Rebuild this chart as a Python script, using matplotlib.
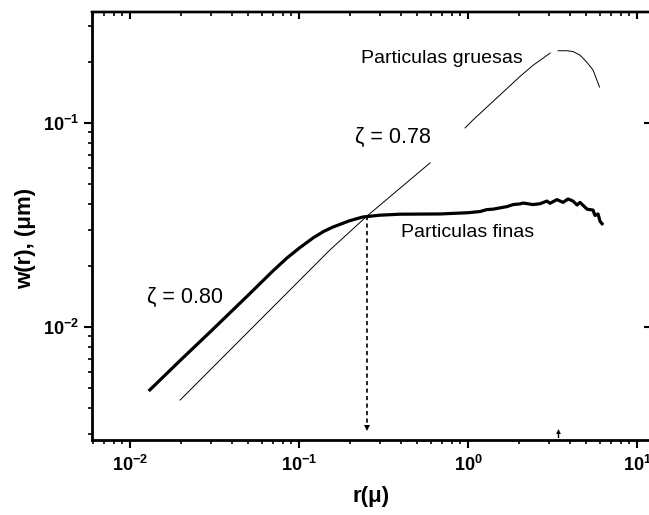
import numpy as np
import matplotlib
matplotlib.use("Agg")
import matplotlib.pyplot as plt
from matplotlib.ticker import LogLocator, NullFormatter, FixedLocator, FixedFormatter

plt.rcParams['font.family'] = ['Liberation Sans', 'DejaVu Sans']
plt.rcParams['mathtext.fontset'] = 'custom'
plt.rcParams['mathtext.rm'] = 'Liberation Sans'
plt.rcParams['mathtext.it'] = 'Liberation Sans:italic'
plt.rcParams['mathtext.bf'] = 'Liberation Sans:bold'

# Fine particles (thick curve)
r_fine = [0.0129, 0.02, 0.03, 0.05, 0.07, 0.085, 0.1, 0.121, 0.14, 0.159, 0.20, 0.239, 0.30,
          0.396, 0.683, 1.0, 1.18, 1.29, 1.41, 1.70, 1.85, 2.03, 2.12, 2.42, 2.67,
          2.93, 3.06, 3.36, 3.65, 3.91, 4.18, 4.42, 4.60, 5.06, 5.49, 5.64, 5.88,
          6.04, 6.30]
w_fine = [0.00485, 0.0069, 0.0095, 0.0143, 0.0188, 0.0218, 0.0243, 0.0273, 0.0294, 0.0309, 0.0332,
          0.0346, 0.0353, 0.0357, 0.0358, 0.0363, 0.0368, 0.0376, 0.0378, 0.0389,
          0.0398, 0.0401, 0.0405, 0.0398, 0.0402, 0.0414, 0.0404, 0.0421, 0.0408,
          0.0424, 0.0414, 0.0396, 0.0408, 0.0378, 0.0374, 0.0352, 0.0358, 0.0330,
          0.0316]

# Coarse particles (thin curve); NaN = where the line is interrupted
r_coarse = [0.0198, 0.152, 0.253, 0.596, np.nan, 0.96, 1.07, 2.03, 2.43, 3.06,
            np.nan, 3.41, 3.85, 4.18, 4.60, 5.06, 5.49, 6.0]
w_coarse = [0.00438, 0.0238, 0.0350, 0.0637, np.nan, 0.0945, 0.1034, 0.169, 0.192,
            0.220, np.nan, 0.226, 0.226, 0.224, 0.215, 0.198, 0.182, 0.150]

r_cross = 0.252      # crossover marked by the dashed arrow
w_cross = 0.035
r_peak = 3.41        # small arrow on the bottom axis

xlim = (0.005958, 12.1)
ylim = (0.00279, 0.350)

xticks = [0.01, 0.1, 1, 10]
xticklabels = [r'$\mathbf{10^{-2}}$', r'$\mathbf{10^{-1}}$', r'$\mathbf{10^{0}}$', r'$\mathbf{10^{1}}$']
yticks = [0.01, 0.1]
yticklabels = [r'$\mathbf{10^{-2}}$', r'$\mathbf{10^{-1}}$']

fig = plt.figure(figsize=(6.49, 5.15), dpi=100)
ax = fig.add_axes([92/649, 1-440/515, (651-92)/649, (440-12)/515])
ax.set_xscale('log')
ax.set_yscale('log')
ax.set_xlim(*xlim)
ax.set_ylim(*ylim)

ax.plot(r_fine, w_fine, color='black', lw=2.3, solid_capstyle='butt', solid_joinstyle='round')
ax.plot(r_coarse, w_coarse, color='black', lw=0.7)

# dashed arrow down to axis
ax.plot([r_cross, r_cross], [w_cross, 0.0032], color='black', lw=1.2,
        linestyle=(0, (2.5, 2)))
ax.plot([r_cross], [0.00318], marker='v', color='black', ms=4.5, mew=0)
ax.plot([r_peak, r_peak], [0.0029, 0.00305], color='black', lw=1.0)
ax.plot([r_peak], [0.00308], marker='^', color='black', ms=3.5, mew=0)

ax.text(0.70, 0.208, 'Particulas gruesas', fontsize=14, ha='center', va='center')
ax.text(0.214, 0.0853, 'ζ = 0.78', fontsize=15.5, ha='left', va='center')
ax.text(0.99, 0.0289, 'Particulas finas', fontsize=14, ha='center', va='center')
ax.text(0.0126, 0.0140, 'ζ = 0.80', fontsize=15.5, ha='left', va='center')

# spines
for s in ax.spines.values():
    s.set_linewidth(1.7)
ax.spines['bottom'].set_linewidth(2.0)
ax.spines['left'].set_linewidth(2.0)

ax.xaxis.set_major_locator(FixedLocator(xticks))
ax.xaxis.set_major_formatter(FixedFormatter(xticklabels))
ax.xaxis.set_minor_locator(LogLocator(base=10, subs=np.arange(2, 10)))
ax.xaxis.set_minor_formatter(NullFormatter())
ax.yaxis.set_major_locator(FixedLocator(yticks))
ax.yaxis.set_major_formatter(FixedFormatter(yticklabels))
ax.yaxis.set_minor_locator(LogLocator(base=10, subs=np.arange(2, 10)))
ax.yaxis.set_minor_formatter(NullFormatter())

ax.tick_params(which='major', direction='out', length=5.5, width=1.5, labelsize=13, pad=4)
ax.tick_params(which='minor', direction='out', length=3, width=1.2)
ax.tick_params(axis='x', which='major', pad=5)

top = ax.secondary_xaxis('top')
top.xaxis.set_major_locator(FixedLocator(xticks))
top.xaxis.set_minor_locator(LogLocator(base=10, subs=np.arange(2, 10)))
top.xaxis.set_major_formatter(NullFormatter())
top.xaxis.set_minor_formatter(NullFormatter())
top.tick_params(which='major', direction='in', length=5, width=1.5)
top.tick_params(which='minor', direction='in', length=3, width=1.2)
top.spines['top'].set_linewidth(1.7)

right = ax.secondary_yaxis('right')
right.yaxis.set_major_locator(FixedLocator(yticks))
right.yaxis.set_minor_locator(LogLocator(base=10, subs=np.arange(2, 10)))
right.yaxis.set_major_formatter(NullFormatter())
right.yaxis.set_minor_formatter(NullFormatter())
right.tick_params(which='major', direction='in', length=5, width=1.5)
right.tick_params(which='minor', direction='in', length=0)

ax.set_xlabel('r(μ)', fontsize=16, fontweight='bold', labelpad=8)
ax.set_ylabel('w(r), (μm)', fontsize=16, fontweight='bold')
ax.yaxis.set_label_coords(-0.1, 0.47)

fig.savefig('out.png', dpi=100)
